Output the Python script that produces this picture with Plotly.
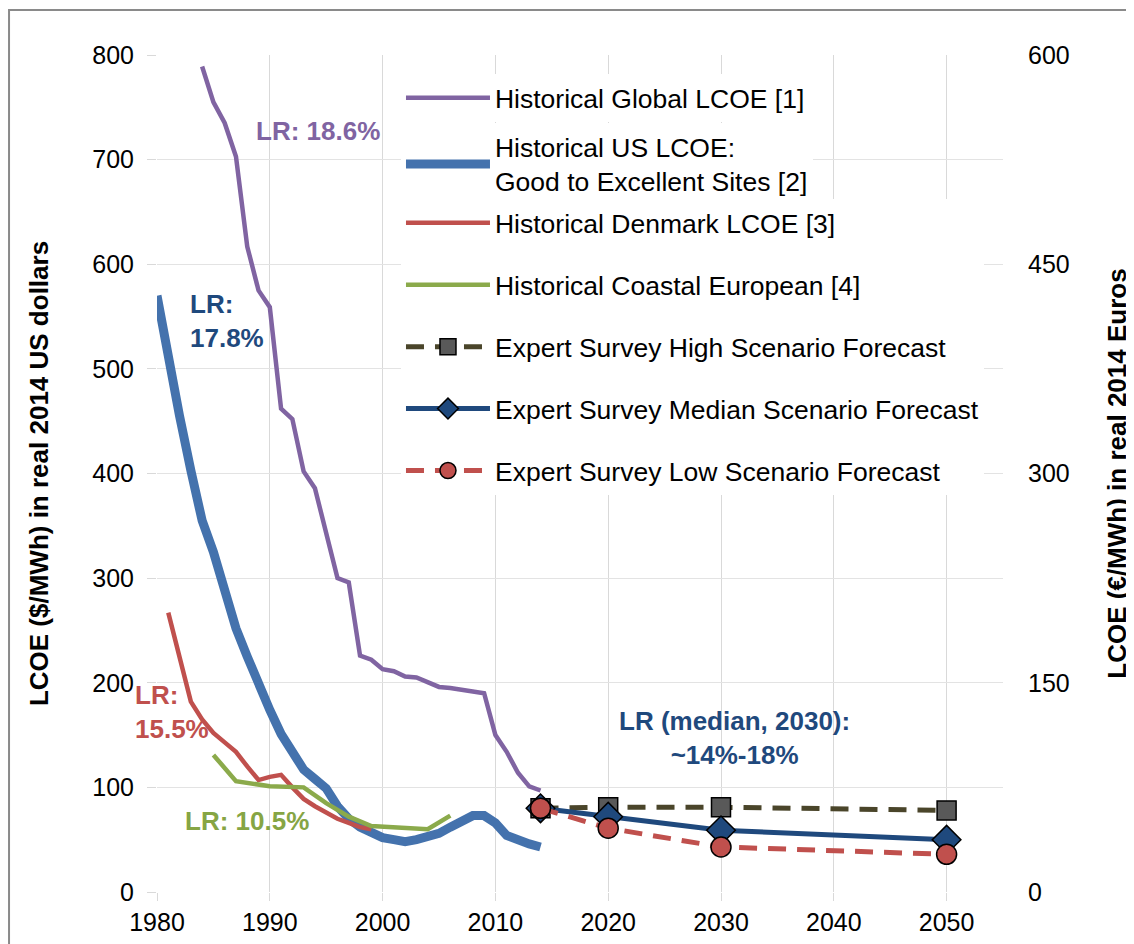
import plotly.graph_objects as go

# ---------------- data ----------------
global_years = list(range(1984, 2015))
global_lcoe = [789, 755, 735, 703, 617, 575, 559, 462, 452, 402, 386, 345, 300, 296,
               226, 222, 213, 211, 206, 205, 200, 196, 195, 193, 192, 190, 150, 134,
               114, 101, 97]

us_years = list(range(1980, 2015))
us_lcoe = [570, 510, 455, 403, 355, 325, 290, 252, 225, 198, 174, 151, 132, 117, 108,
           99, 82, 70, 62, 56, 52, 50, 48, 50, 53, 56, 62, 67, 73, 73, 66, 54, 49, 46, 43]

dk_years = list(range(1981, 2000))
dk_lcoe = [267, 225, 182, 165, 152, 143, 134, 120, 107, 110, 112, 100, 89, 82, 76,
           70, 66, 62, 60]

eu_years = [1985, 1987, 1990, 1993, 1995, 1997, 1999, 2004, 2006]
eu_lcoe = [131, 106, 101, 100, 85, 72, 63, 60, 73]

fc_years = [2014, 2020, 2030, 2050]
fc_high = [80, 81, 81, 78]
fc_median = [80, 72, 59, 50]
fc_low = [80, 61, 43, 36]

x_ticks = [1980, 1990, 2000, 2010, 2020, 2030, 2040, 2050]
y_ticks = [0, 100, 200, 300, 400, 500, 600, 700, 800]
y2_ticks = [0, 150, 300, 450, 600]

names = ["Historical Global LCOE [1]",
         "Historical US LCOE:<br>Good to Excellent Sites [2]",
         "Historical Denmark LCOE [3]",
         "Historical Coastal European [4]",
         "Expert Survey High Scenario Forecast",
         "Expert Survey Median Scenario Forecast",
         "Expert Survey Low Scenario Forecast"]

FONT = "Liberation Sans, Arial, sans-serif"
PURPLE = "#8064A2"
BLUE = "#4472AD"
RED = "#C0504D"
GREEN = "#8BAA4B"
DKBLUE = "#1F497D"
OLIVE = "#4A452A"

fig = go.Figure()

fig.add_trace(go.Scatter(x=global_years, y=global_lcoe, name=names[0], mode="lines",
                         line=dict(color=PURPLE, width=4.5), legend="legend"))
fig.add_trace(go.Scatter(x=us_years, y=us_lcoe, name=names[1], mode="lines",
                         line=dict(color=BLUE, width=9), legend="legend2"))
fig.add_trace(go.Scatter(x=dk_years, y=dk_lcoe, name=names[2], mode="lines",
                         line=dict(color=RED, width=4.5), legend="legend3",
                         legendgroup="g3"))
fig.add_trace(go.Scatter(x=eu_years, y=eu_lcoe, name=names[3], mode="lines",
                         line=dict(color=GREEN, width=4.5), legend="legend3",
                         legendgroup="g4"))
fig.add_trace(go.Scatter(x=fc_years, y=fc_high, name=names[4], mode="lines+markers",
                         line=dict(color=OLIVE, width=5, dash="18px,11px"),
                         marker=dict(symbol="square", size=19, color="#595959",
                                     line=dict(color="black", width=1.5)),
                         legend="legend3", legendgroup="g5"))
fig.add_trace(go.Scatter(x=fc_years, y=fc_median, name=names[5], mode="lines+markers",
                         line=dict(color=DKBLUE, width=5),
                         marker=dict(symbol="diamond", size=22, color=DKBLUE,
                                     line=dict(color="black", width=1.5)),
                         legend="legend3", legendgroup="g6"))
fig.add_trace(go.Scatter(x=fc_years, y=fc_low, name=names[6], mode="lines+markers",
                         line=dict(color=RED, width=5, dash="18px,11px"),
                         marker=dict(symbol="circle", size=20, color=RED,
                                     line=dict(color="black", width=1.5)),
                         legend="legend3", legendgroup="g7"))

# invisible trace to activate the right axis
fig.add_trace(go.Scatter(x=[fc_years[0]], y=[0], yaxis="y2", mode="markers",
                         marker=dict(opacity=0), showlegend=False, hoverinfo="skip"))

ann_font = dict(family=FONT, size=26)
annotations = [
    dict(x=1994.25, y=727, text="<b>LR: 18.6%</b>", font=dict(ann_font, color=PURPLE),
         showarrow=False, xanchor="center", yanchor="middle"),
    dict(x=1982.75, y=546, text="<b>LR:<br>17.8%</b>", font=dict(ann_font, color=DKBLUE),
         showarrow=False, xanchor="left", yanchor="middle", align="left"),
    dict(x=1981, y=172, xshift=-35, text="<b>LR:<br>15.5%</b>",
         font=dict(ann_font, color=RED),
         showarrow=False, xanchor="left", yanchor="middle", align="left"),
    dict(x=1988.0, y=68, text="<b>LR: 10.5%</b>", font=dict(ann_font, color="#86A544"),
         showarrow=False, xanchor="center", yanchor="middle"),
    dict(x=2031.2, y=147, text="<b>LR (median, 2030):<br>~14%-18%</b>",
         font=dict(ann_font, color=DKBLUE),
         showarrow=False, xanchor="center", yanchor="middle", align="center"),
]

# plot area: page x 157..1003, page y 55..892 (page has 8px body margin)
PT, PB = 55, 892


def py(page_y):
    return (PB - page_y) / (PB - PT)


LEG_X = 0.2884
leg_common = dict(x=LEG_X, xanchor="left", yanchor="middle", bgcolor="white",
                  font=dict(family=FONT, size=26.5, color="black"), itemwidth=84)

fig.update_layout(
    width=1126, height=936,
    margin=dict(l=149, r=131, t=47, b=52, autoexpand=False),
    paper_bgcolor="white", plot_bgcolor="white",
    font=dict(family=FONT, size=25, color="black"),
    showlegend=True,
    legend=dict(leg_common, y=py(98)),
    legend2=dict(leg_common, y=py(164)),
    legend3=dict(leg_common, y=py(347), tracegroupgap=24.5, traceorder="grouped"),
    xaxis=dict(range=[1980, 2055], tickvals=x_ticks, showgrid=True,
               gridcolor="#D9D9D9", gridwidth=1.3, zeroline=False,
               ticks="outside", ticklen=8, tickcolor="#D9D9D9", automargin=False,
               ticklabelstandoff=0, tickfont=dict(size=25), showline=False),
    yaxis=dict(range=[0, 800], tickvals=y_ticks, showgrid=True,
               gridcolor="#E3E3E3", gridwidth=1.3, zeroline=False,
               ticks="outside", ticklen=9, tickcolor="#D9D9D9", automargin=False,
               ticklabelstandoff=8, tickfont=dict(size=25),
               title=dict(text="<b>LCOE ($/MWh) in real 2014 US dollars</b>",
                          font=dict(size=26), standoff=36)),
    yaxis2=dict(range=[0, 600], tickvals=y2_ticks, overlaying="y", side="right",
                showgrid=False, zeroline=False, ticks="", ticklabelstandoff=24,
                tickfont=dict(size=25), automargin=False,
                title=dict(text="<b>LCOE (€/MWh) in real 2014 Euros</b>",
                           font=dict(size=26), standoff=39)),
    annotations=annotations,
    shapes=[dict(type="rect", xref="paper", yref="paper",
                 x0=-0.1749, x1=1.3, y0=-0.3, y1=1.0538,
                 line=dict(color="#8A8A8A", width=2), fillcolor="rgba(0,0,0,0)",
                 layer="below")],
)

fig.write_html("out.html")
